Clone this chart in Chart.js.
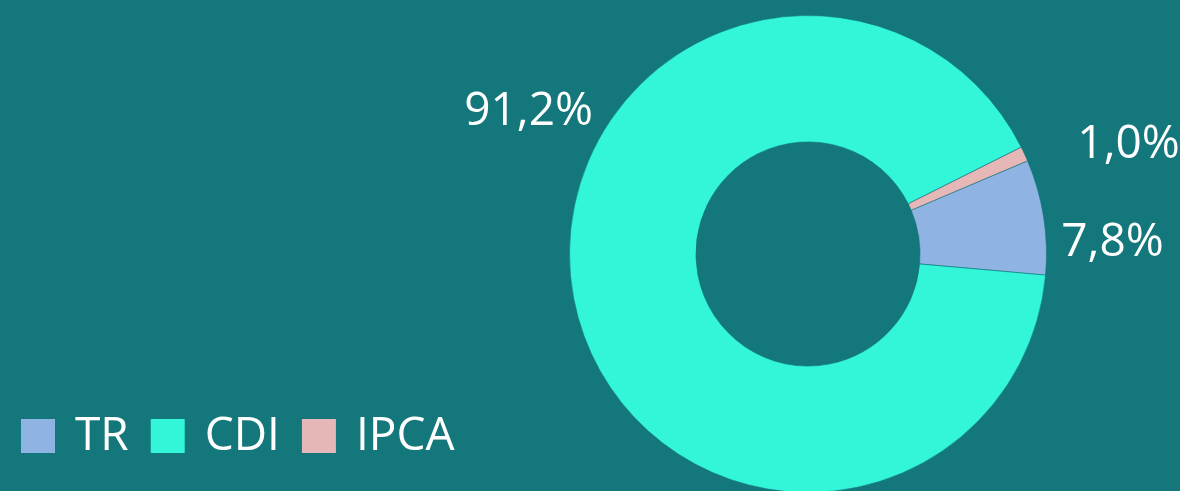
<!DOCTYPE html>
<html>
<head>
<meta charset="utf-8">
<script src="https://cdn.jsdelivr.net/npm/chart.js@4/dist/chart.umd.min.js"></script>
<style>
  html, body { margin: 0; padding: 0; background: #13777b; overflow: hidden; }
  #wrap { width: 1180px; height: 500px; position: relative; }
</style>
</head>
<body>
<div id="wrap"><canvas id="chart"></canvas></div>
<script>
const categories = ["TR", "CDI", "IPCA"];
const shares = [7.8, 91.2, 1.0];
const colors = ["#8fb4e3", "#33f5d8", "#e6b7b7"];

// where each percentage label sits: angle from 3 o'clock (deg) and gap past the outer edge
const labelSpots = [
  { angle: -2.5, gap: 15, align: "left" },
  { angle: -146.6, gap: 19, align: "right" },
  { angle: -22, gap: 52, align: "left" },
];

const FONT = "'Open Sans', 'Noto Sans', sans-serif";

const labelPlugin = {
  id: "pctLabels",
  afterDatasetsDraw(chart) {
    const ctx = chart.ctx;
    const meta = chart.getDatasetMeta(0);
    ctx.save();
    ctx.fillStyle = "#ffffff";
    ctx.font = "46px " + FONT;
    ctx.textBaseline = "middle";
    meta.data.forEach((arc, i) => {
      const spot = labelSpots[i];
      const a = (spot.angle * Math.PI) / 180;
      const r = arc.outerRadius + spot.gap;
      const x = arc.x + r * Math.cos(a);
      const y = arc.y + r * Math.sin(a);
      ctx.textAlign = spot.align;
      ctx.fillText(shares[i].toFixed(1).replace(".", ",") + "%", x, y);
    });
    ctx.restore();
  },
};

const legendPlugin = {
  id: "bottomLegend",
  afterDraw(chart) {
    const ctx = chart.ctx;
    ctx.save();
    ctx.font = "46px " + FONT;
    ctx.textBaseline = "middle";
    ctx.textAlign = "left";
    let x = 21;
    const top = 419;
    const box = 34;
    categories.forEach((name, i) => {
      ctx.fillStyle = colors[i];
      ctx.fillRect(x, top, box, box);
      x += box + 20;
      ctx.fillStyle = "#ffffff";
      ctx.fillText(name, x, top + box / 2 + 1);
      x += ctx.measureText(name).width + 22;
    });
    ctx.restore();
  },
};

const chart = new Chart(document.getElementById("chart"), {
  type: "doughnut",
  data: {
    labels: categories,
    datasets: [
      {
        data: shares,
        backgroundColor: colors,
        borderColor: "rgba(19,119,123,0.6)",
        borderWidth: 1,
      },
    ],
  },
  options: {
    responsive: true,
    maintainAspectRatio: false,
    animation: false,
    cutout: "47%",
    rotation: 67,
    layout: { padding: { left: 569, right: 133, top: 15, bottom: 7 } },
    plugins: {
      legend: { display: false },
      tooltip: { enabled: false },
    },
  },
  plugins: [labelPlugin, legendPlugin],
});
</script>
</body>
</html>
